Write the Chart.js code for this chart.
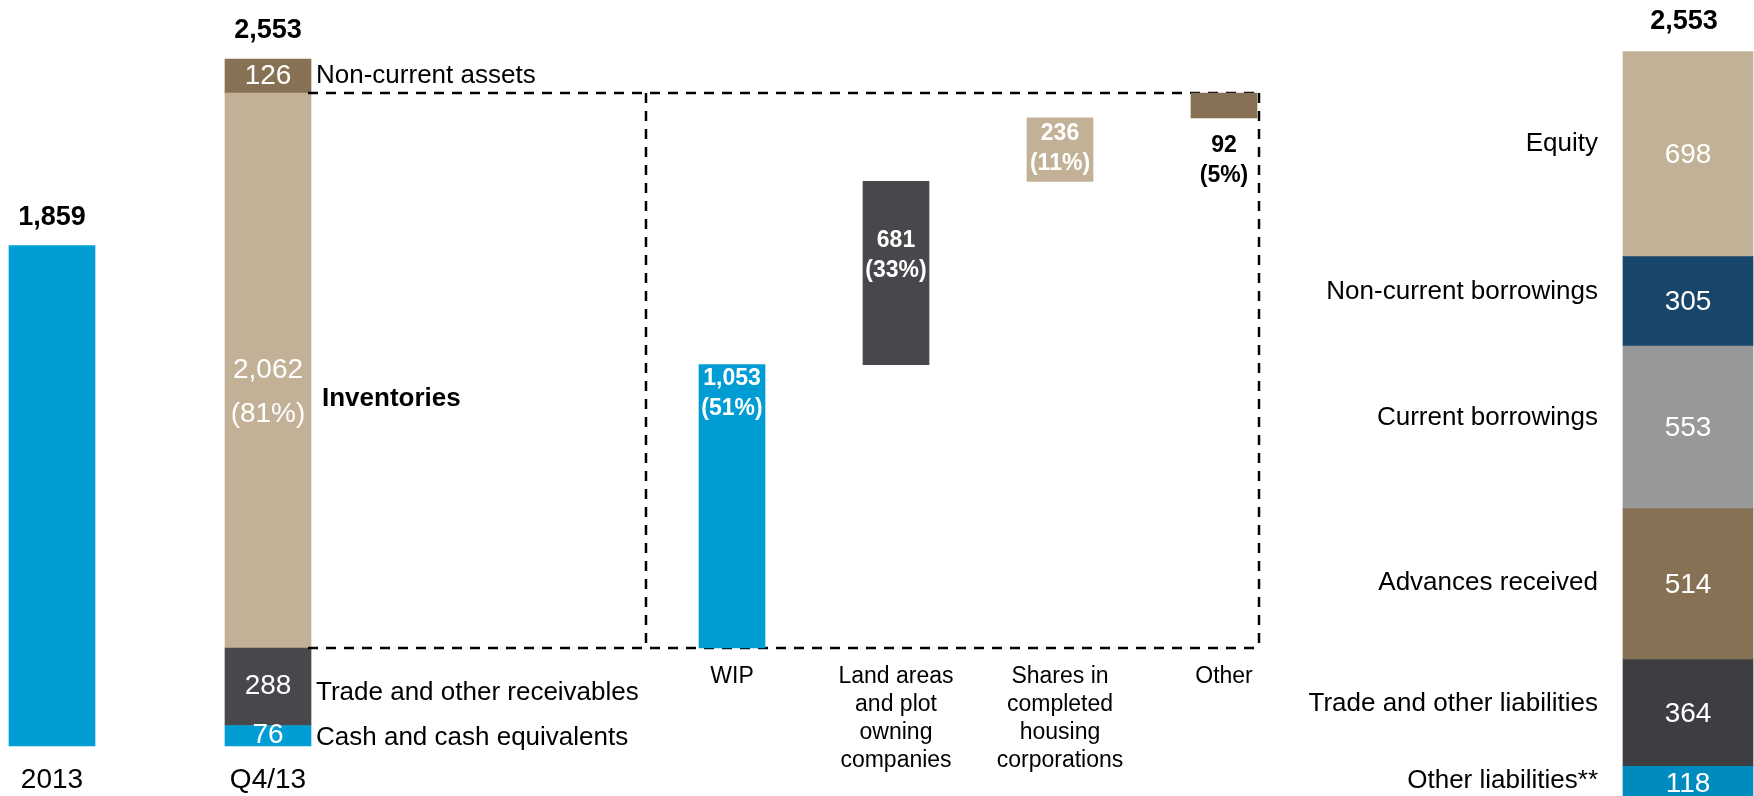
<!DOCTYPE html>
<html>
<head>
<meta charset="utf-8">
<script src="https://cdn.jsdelivr.net/npm/chart.js@4.4.1/dist/chart.umd.min.js"></script>
<style>
  html, body { margin: 0; padding: 0; background: #fff; }
  body { position: relative; width: 1754px; height: 796px; overflow: hidden; }
  canvas { position: absolute; top: 0; }
  #assets { left: -56px; }
  #inventory { left: 308px; }
  #liabilities { left: 1280px; }
</style>
</head>
<body>
<canvas id="assets" width="756" height="796"></canvas>
<canvas id="inventory" width="998" height="796"></canvas>
<canvas id="liabilities" width="474" height="796"></canvas>
<script>
// values in EUR m
const periods = ["2013", "Q4/13"];
const periodTotals = [1859, 2553];
const assetNames = ["Cash and cash equivalents", "Trade and other receivables", "Inventories", "Non-current assets"];
const assetValues = [76, 288, 2062, 126];
const inventoryShareText = "(81%)";

const inventoryNames = [["WIP"], ["Land areas", "and plot", "owning", "companies"], ["Shares in", "completed", "housing", "corporations"], ["Other"]];
const inventoryValues = [1053, 681, 236, 92];
const inventoryShares = ["(51%)", "(33%)", "(11%)", "(5%)"];

const liabilityNames = ["Other liabilities**", "Trade and other liabilities", "Advances received", "Current borrowings", "Non-current borrowings", "Equity"];
const liabilityValues = [118, 364, 514, 553, 305, 698];
const liabilityTotal = 2553;

const FONT = "'Liberation Sans', Arial, sans-serif";
const BLUE = "#009CD4", DARK = "#48474C", TAN = "#C2B197", BROWN = "#877155";
const assetColors = [BLUE, DARK, TAN, BROWN];
const inventoryColors = [BLUE, DARK, TAN, BROWN];
const liabilityColors = ["#008BBF", "#3E3D42", BROWN, "#98989A", "#18456A", TAN];

// label nudges (px) – purely cosmetic
const assetSideDy = [2, 6, 28, 0];
const invLabelTop = [14, 59, 16, 53];
const liabSideDy = [-3, -9, -1, -10, -10, -10];

const fmt = v => v.toLocaleString("en-US");

const baseOpts = (padLeft, padRight, yMin, yMax) => ({
  responsive: false,
  animation: false,
  layout: { padding: { left: padLeft, right: padRight, top: 0, bottom: 0 } },
  plugins: { legend: { display: false }, tooltip: { enabled: false } },
  datasets: { bar: { borderWidth: 0 } },
  scales: {
    x: { display: false, stacked: true },
    y: { display: false, stacked: true, min: yMin, max: yMax }
  }
});

// ---- left: 2013 and Q4/13 assets ----
const assetLabels = {
  id: "assetLabels",
  afterDatasetsDraw(chart) {
    const ctx = chart.ctx;
    const xs = chart.scales.x, ys = chart.scales.y;
    ctx.save();
    ctx.textAlign = "center";
    ctx.textBaseline = "middle";
    ctx.fillStyle = "#000";
    ctx.font = "28px " + FONT;
    periods.forEach((p, i) => ctx.fillText(p, xs.getPixelForValue(i), ys.getPixelForValue(0) + 34));

    ctx.font = "bold 27px " + FONT;
    ctx.textBaseline = "alphabetic";
    periodTotals.forEach((t, i) => ctx.fillText(fmt(t), xs.getPixelForValue(i), ys.getPixelForValue(t) - 21));

    ctx.textBaseline = "middle";
    assetNames.forEach((name, k) => {
      const el = chart.getDatasetMeta(k + 1).data[1];
      const mid = (el.y + el.base) / 2;
      ctx.fillStyle = "#fff";
      ctx.textAlign = "center";
      ctx.font = "28px " + FONT;
      ctx.fillText(fmt(assetValues[k]), el.x, mid);
      if (name === "Inventories") ctx.fillText(inventoryShareText, el.x, mid + 44);
      ctx.fillStyle = "#000";
      ctx.textAlign = "left";
      ctx.font = (name === "Inventories" ? "bold " : "") + "26px " + FONT;
      ctx.fillText(name, el.x + el.width / 2 + (name === "Inventories" ? 11 : 5), mid + assetSideDy[k]);
    });
    ctx.restore();
  }
};

new Chart(document.getElementById("assets"), {
  type: "bar",
  data: {
    labels: periods,
    datasets: [
      { label: "Total assets", data: [periodTotals[0], null], backgroundColor: BLUE, barThickness: 86 },
      ...assetNames.map((n, i) => ({ label: n, data: [null, assetValues[i]], backgroundColor: assetColors[i], barThickness: 86 }))
    ]
  },
  options: baseOpts(0, 324, -186, 2772),
  plugins: [assetLabels]
});

// ---- middle: inventory breakdown ----
const invBase = assetValues[0] + assetValues[1];
const invRanges = [];
let run = invBase;
inventoryValues.forEach(v => { invRanges.push([run, run + v]); run += v; });

const inventoryDraw = {
  id: "inventoryDraw",
  beforeDatasetsDraw(chart) {
    const ctx = chart.ctx, ys = chart.scales.y;
    const top = ys.getPixelForValue(invBase + assetValues[2]);
    const bottom = ys.getPixelForValue(invBase);
    const last = chart.getDatasetMeta(0).data[inventoryValues.length - 1];
    const right = last.x + last.width / 2 + 2;
    const left = chart.chartArea.left - 4;
    ctx.save();
    ctx.strokeStyle = "#000";
    ctx.lineWidth = 2.5;
    ctx.setLineDash([10, 8]);
    ctx.beginPath();
    ctx.moveTo(0, top); ctx.lineTo(right, top);
    ctx.moveTo(0, bottom); ctx.lineTo(right, bottom);
    ctx.moveTo(left, top); ctx.lineTo(left, bottom);
    ctx.moveTo(right, top); ctx.lineTo(right, bottom);
    ctx.stroke();
    ctx.restore();
  },
  afterDatasetsDraw(chart) {
    const ctx = chart.ctx, ys = chart.scales.y;
    const bottom = ys.getPixelForValue(invBase);
    ctx.save();
    ctx.textAlign = "center";
    ctx.textBaseline = "middle";
    chart.getDatasetMeta(0).data.forEach((el, i) => {
      const top = Math.min(el.y, el.base);
      ctx.font = "bold 23px " + FONT;
      ctx.fillStyle = i === inventoryValues.length - 1 ? "#000" : "#fff";
      ctx.fillText(fmt(inventoryValues[i]), el.x, top + invLabelTop[i]);
      ctx.fillText(inventoryShares[i], el.x, top + invLabelTop[i] + 30);
      ctx.font = "23px " + FONT;
      ctx.fillStyle = "#000";
      inventoryNames[i].forEach((line, j) => ctx.fillText(line, el.x, bottom + 29 + j * 28));
    });
    ctx.restore();
  }
};

new Chart(document.getElementById("inventory"), {
  type: "bar",
  data: {
    labels: inventoryNames,
    datasets: [{ label: "Inventories", data: invRanges, backgroundColor: inventoryColors, barThickness: 66 }]
  },
  options: baseOpts(342, 0, -186, 2772),
  plugins: [inventoryDraw]
});

// ---- right: liabilities and equity ----
const liabilityLabels = {
  id: "liabilityLabels",
  afterDatasetsDraw(chart) {
    const ctx = chart.ctx, ys = chart.scales.y;
    ctx.save();
    ctx.textBaseline = "middle";
    let barX = 0, barLeft = 0;
    liabilityNames.forEach((name, k) => {
      const el = chart.getDatasetMeta(k).data[0];
      const mid = (el.y + el.base) / 2;
      barX = el.x; barLeft = el.x - el.width / 2;
      ctx.fillStyle = "#fff";
      ctx.textAlign = "center";
      ctx.font = "28px " + FONT;
      ctx.fillText(fmt(liabilityValues[k]), el.x, mid + 1);
      ctx.fillStyle = "#000";
      ctx.textAlign = "right";
      ctx.font = "26px " + FONT;
      ctx.fillText(name, barLeft - 25, mid + liabSideDy[k]);
    });
    ctx.textAlign = "center";
    ctx.textBaseline = "alphabetic";
    ctx.font = "bold 27px " + FONT;
    ctx.fillText(fmt(liabilityTotal), barX - 4, ys.getPixelForValue(liabilityTotal) - 22);
    ctx.restore();
  }
};

new Chart(document.getElementById("liabilities"), {
  type: "bar",
  data: {
    labels: ["Q4/13"],
    datasets: liabilityNames.map((n, i) => ({ label: n, data: [liabilityValues[i]], backgroundColor: liabilityColors[i], barThickness: 130 }))
  },
  options: baseOpts(342, 0, 17, 2728),
  plugins: [liabilityLabels]
});
</script>
</body>
</html>
